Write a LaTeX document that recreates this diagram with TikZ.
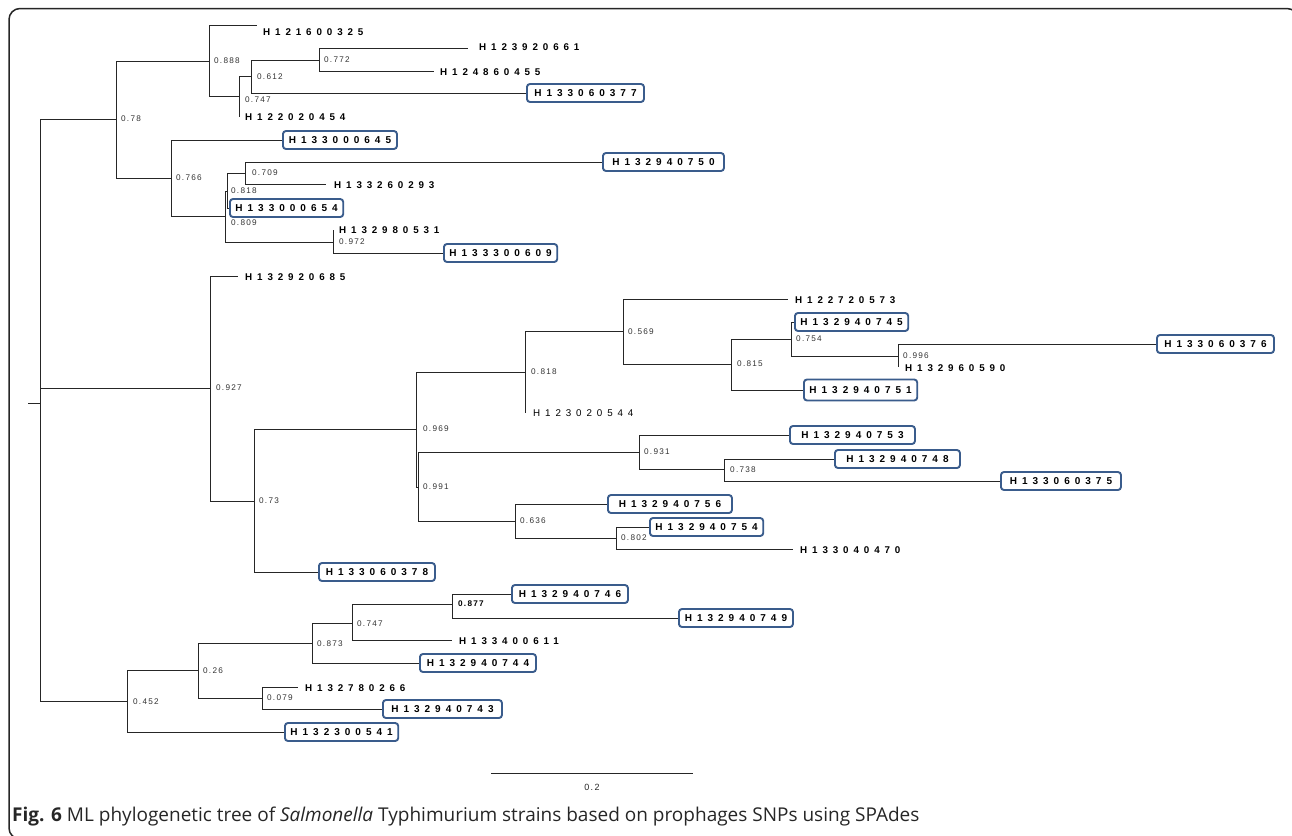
\documentclass[tikz,border=0pt]{standalone}
\usepackage{fontspec}
\setmainfont{Liberation Sans}
\newfontfamily\leaffont[LetterSpace=50]{Liberation Sans}
\newfontfamily\supfont[LetterSpace=15]{Liberation Sans}
\newfontfamily\capfont{Open Sans}
\definecolor{boxblue}{RGB}{58,92,140}
\tikzset{
  br/.style={draw=black!85, line width=1pt},
  leaf/.style={anchor=west, inner sep=0pt, font=\leaffont\bfseries\fontsize{9.8}{10}\selectfont},
  leafplain/.style={anchor=west, inner sep=0pt, font=\leaffont\fontsize{9.8}{10}\selectfont},
  boxleaf/.style={anchor=west, inner ysep=0pt, inner xsep=5.5pt, minimum height=18pt, draw=boxblue, line width=1.9pt, rounded corners=3pt, fill=white, font=\leaffont\bfseries\fontsize{10}{10}\selectfont},
  sup/.style={anchor=west, inner sep=0pt, font=\supfont\fontsize{8.2}{9}\selectfont, text=black!80},
  frame/.style={draw=black!85, line width=1.5pt, rounded corners=11pt},
}
\begin{document}
\begin{tikzpicture}[x=1pt,y=-1pt]
\useasboundingbox (0,0) rectangle (1292,835);
\draw[frame] (9,8.5) rectangle (1298,839);

% ---------- internal nodes ----------
\coordinate (stub) at (28,403);
\coordinate (root) at (40,403);
\coordinate (n78) at (116,119);
\coordinate (n888) at (209,61);
\coordinate (n747a) at (239,96);
\coordinate (n612) at (251,76);
\coordinate (n772) at (319,60);
\coordinate (n766) at (171,178);
\coordinate (n809) at (225,216);
\coordinate (n818b) at (227,191);
\coordinate (n709) at (245,173);
\coordinate (n972) at (333,242);
\coordinate (n927) at (210,388);
\coordinate (n73) at (254,501);
\coordinate (n969) at (416,429);
\coordinate (n818c) at (525,372);
\coordinate (n569) at (623,331);
\coordinate (n815) at (731,364);
\coordinate (n754) at (791,339);
\coordinate (n996) at (898,356);
\coordinate (n991) at (418,487);
\coordinate (n931) at (639,452);
\coordinate (n738) at (724,469);
\coordinate (n636) at (515,521);
\coordinate (n802) at (616,538);
\coordinate (n452) at (127,701);
\coordinate (n26) at (198,670);
\coordinate (n873) at (312,643);
\coordinate (n747b) at (352,623);
\coordinate (n877) at (452,604);
\coordinate (n079) at (262,698);

% ---------- plain leaf end points ----------
\coordinate (e121600325) at (257,25);
\coordinate (e123920661) at (468,48);
\coordinate (e124860455) at (434,71);
\coordinate (e122020454) at (239,117);
\coordinate (e133260293) at (326,184);
\coordinate (e132980531) at (333,230);
\coordinate (e132920685) at (238,276);
\coordinate (e123020544) at (525,413);
\coordinate (e122720573) at (788,299);
\coordinate (e132960590) at (898,367);
\coordinate (e133040470) at (793,549);
\coordinate (e133400611) at (452,640);
\coordinate (e132780266) at (298,687);

% ---------- branches ----------
\draw[br] (stub) -- (root);
\draw[br] (root) |- (n78);
\draw[br] (root) |- (n927);
\draw[br] (root) |- (n452);
\draw[br] (n78) |- (n888);
\draw[br] (n78) |- (n766);
\draw[br] (n888) |- (e121600325);
\draw[br] (n888) |- (n747a);
\draw[br] (n747a) |- (n612);
\draw[br] (n747a) |- (e122020454);
\draw[br] (n612) |- (n772);
\draw[br] (n772) |- (e123920661);
\draw[br] (n772) |- (e124860455);
\draw[br] (n766) |- (n809);
\draw[br] (n809) |- (n818b);
\draw[br] (n809) |- (n972);
\draw[br] (n818b) |- (n709);
\draw[br] (n709) |- (e133260293);
\draw[br] (n972) |- (e132980531);
\draw[br] (n927) |- (e132920685);
\draw[br] (n927) |- (n73);
\draw[br] (n73) |- (n969);
\draw[br] (n969) |- (n818c);
\draw[br] (n969) |- (n991);
\draw[br] (n818c) |- (n569);
\draw[br] (n818c) |- (e123020544);
\draw[br] (n569) |- (e122720573);
\draw[br] (n569) |- (n815);
\draw[br] (n815) |- (n754);
\draw[br] (n754) |- (n996);
\draw[br] (n996) |- (e132960590);
\draw[br] (n991) |- (n931);
\draw[br] (n991) |- (n636);
\draw[br] (n931) |- (n738);
\draw[br] (n636) |- (n802);
\draw[br] (n802) |- (e133040470);
\draw[br] (n452) |- (n26);
\draw[br] (n26) |- (n873);
\draw[br] (n26) |- (n079);
\draw[br] (n873) |- (n747b);
\draw[br] (n747b) |- (n877);
\draw[br] (n747b) |- (e133400611);
\draw[br] (n079) |- (e132780266);

% ---------- boxed leaves ----------
\node[boxleaf, minimum width=117pt] (b133060377) at (526,93) {H133060377};
\node[boxleaf, minimum width=114pt] (b133000645) at (282,140) {H133000645};
\node[boxleaf, minimum width=121pt] (b132940750) at (602,162) {H132940750};
\node[boxleaf, minimum width=108pt] (b133000654) at (229,208) {H133000654};
\node[boxleaf, minimum width=107pt] (b133300609) at (443,253) {H133300609};
\node[boxleaf, minimum width=116pt] (b133060378) at (318,572) {H133060378};
\node[boxleaf, minimum width=108pt] (b132940745) at (794,322) {H132940745};
\node[boxleaf, minimum width=117pt] (b133060376) at (1156,344) {H133060376};
\node[boxleaf, minimum width=110pt, minimum height=21pt] (b132940751) at (803,390) {H132940751};
\node[boxleaf, minimum width=125pt] (b132940753) at (789,435) {H132940753};
\node[boxleaf, minimum width=125pt] (b132940748) at (834,459) {H132940748};
\node[boxleaf, minimum width=120pt] (b133060375) at (1000,481) {H133060375};
\node[boxleaf, minimum width=124pt] (b132940756) at (607,504) {H132940756};
\node[boxleaf, minimum width=111pt] (b132940754) at (649,527) {H132940754};
\node[boxleaf, minimum width=116pt] (b132940746) at (511,594) {H132940746};
\node[boxleaf, minimum width=114pt] (b132940749) at (678,618) {H132940749};
\node[boxleaf, minimum width=116pt] (b132940744) at (419,663) {H132940744};
\node[boxleaf, minimum width=119pt] (b132940743) at (382,709) {H132940743};
\node[boxleaf, minimum width=112pt] (b132300541) at (284,732) {H132300541};

\draw[br] (n612) |- (b133060377.west);
\draw[br] (n766) |- (b133000645.west);
\draw[br] (n709) |- (b132940750.west);
\draw[br] (n818b) |- (b133000654.west);
\draw[br] (n972) |- (b133300609.west);
\draw[br] (n73) |- (b133060378.west);
\draw[br] (n754) |- (b132940745.west);
\draw[br] (n996) |- (b133060376.west);
\draw[br] (n815) |- (b132940751.west);
\draw[br] (n931) |- (b132940753.west);
\draw[br] (n738) |- (b132940748.west);
\draw[br] (n738) |- (b133060375.west);
\draw[br] (n636) |- (b132940756.west);
\draw[br] (n802) |- (b132940754.west);
\draw[br] (n877) |- (b132940746.west);
\draw[br] (n877) |- (b132940749.west);
\draw[br] (n873) |- (b132940744.west);
\draw[br] (n079) |- (b132940743.west);
\draw[br] (n452) |- (b132300541.west);

% ---------- plain leaf labels ----------
\node[leaf] (l121600325) at (263,32) {H121600325};
\node[leaf] (l123920661) at (479,47) {H123920661};
\node[leaf] (l124860455) at (440,72) {H124860455};
\node[leaf] (l122020454) at (245,117) {H122020454};
\node[leaf] (l133260293) at (334,185) {H133260293};
\node[leaf] (l132980531) at (339,230) {H132980531};
\node[leaf] (l132920685) at (245,277) {H132920685};
\node[leafplain] (l123020544) at (533,413) {H123020544};
\node[leaf] (l122720573) at (795,300) {H122720573};
\node[leaf] (l132960590) at (905,368) {H132960590};
\node[leaf] (l133040470) at (800,550) {H133040470};
\node[leaf] (l133400611) at (459,641) {H133400611};
\node[leaf] (l132780266) at (305,688) {H132780266};

% ---------- support values ----------
\node[sup] (s78) at (121,119) {0.78};
\node[sup] (s888) at (214,61) {0.888};
\node[sup] (s747a) at (245,100) {0.747};
\node[sup] (s612) at (257,77) {0.612};
\node[sup] (s772) at (324,60) {0.772};
\node[sup] (s766) at (176,178) {0.766};
\node[sup] (s709) at (252,173) {0.709};
\node[sup] (s818b) at (231,191) {0.818};
\node[sup] (s809) at (231,223) {0.809};
\node[sup] (s972) at (339,242) {0.972};
\node[sup] (s927) at (216,388) {0.927};
\node[sup] (s73) at (259,501) {0.73};
\node[sup] (s969) at (423,429) {0.969};
\node[sup] (s818c) at (531,372) {0.818};
\node[sup] (s569) at (628,332) {0.569};
\node[sup] (s815) at (737,364) {0.815};
\node[sup] (s754) at (796,339) {0.754};
\node[sup] (s996) at (903,356) {0.996};
\node[sup] (s991) at (423,487) {0.991};
\node[sup] (s931) at (644,452) {0.931};
\node[sup] (s738) at (730,470) {0.738};
\node[sup] (s636) at (520,521) {0.636};
\node[sup] (s802) at (621,538) {0.802};
\node[sup] (s452) at (133,702) {0.452};
\node[sup] (s26) at (203,671) {0.26};
\node[sup] (s873) at (317,644) {0.873};
\node[sup] (s747b) at (357,624) {0.747};
\node[sup, font=\supfont\bfseries\fontsize{8.2}{9}\selectfont, text=black] (s877) at (458,604) {0.877};
\node[sup] (s079) at (267,698) {0.079};

% ---------- scale bar ----------
\coordinate (sbL) at (491,773);
\coordinate (sbR) at (693,773);
\draw[br] (sbL) -- (sbR);
\node[sup, anchor=center, font=\supfont\fontsize{9}{10}\selectfont, text=black!85] (sbt) at (592,787) {0.2};

% ---------- caption ----------
\node[anchor=west, inner sep=0pt, font=\capfont\fontsize{19}{20}\selectfont, text=black!85] (cap) at (12,817) {\textbf{Fig. 6} ML phylogenetic tree of \textit{Salmonella} Typhimurium strains based on prophages SNPs using SPAdes};
\end{tikzpicture}
\end{document}
